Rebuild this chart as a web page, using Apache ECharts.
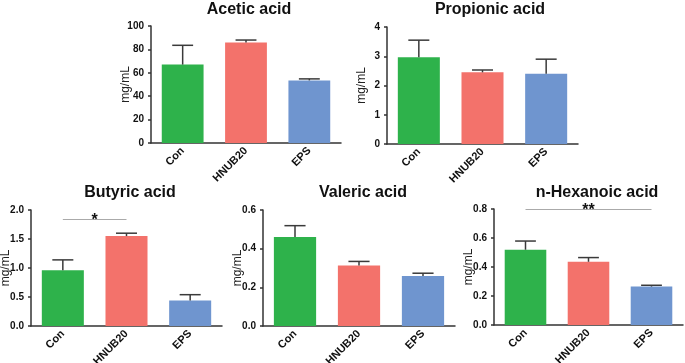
<!DOCTYPE html>
<html>
<head>
<meta charset="utf-8">
<title>Short-chain fatty acids</title>
<script src="https://cdn.jsdelivr.net/npm/echarts@6/dist/echarts.min.js"></script>
<style>
  html, body { margin: 0; padding: 0; background: #fff; }
  #chart { width: 685px; height: 363px; }
</style>
</head>
<body>
<div id="chart"></div>
<script>
// groups and values (mean and upper error bar)
var groups = ['Con', 'HNUB20', 'EPS'];

var aceticMean = [67, 86, 53.5];
var aceticSd = [16.5, 2, 1.3];

var propionicMean = [2.97, 2.45, 2.40];
var propionicSd = [0.58, 0.08, 0.50];

var butyricMean = [0.96, 1.55, 0.44];
var butyricSd = [0.18, 0.05, 0.10];

var valericMean = [0.46, 0.313, 0.259];
var valericSd = [0.059, 0.021, 0.014];

var hexanoicMean = [0.519, 0.436, 0.265];
var hexanoicSd = [0.06, 0.029, 0.009];

// significance brackets: [from group, to group, height, mark]
var butyricSig = [0, 1, 1.84, '*'];
var hexanoicSig = [0, 2, 0.795, '**'];

var panels = [
  { title: 'Acetic acid', mean: aceticMean, sd: aceticSd, max: 100, step: 20, digits: 0, sig: null },
  { title: 'Propionic acid', mean: propionicMean, sd: propionicSd, max: 4, step: 1, digits: 0, sig: null },
  { title: 'Butyric acid', mean: butyricMean, sd: butyricSd, max: 2, step: 0.5, digits: 1, sig: butyricSig },
  { title: 'Valeric acid', mean: valericMean, sd: valericSd, max: 0.6, step: 0.2, digits: 1, sig: null },
  { title: 'n-Hexanoic acid', mean: hexanoicMean, sd: hexanoicSd, max: 0.8, step: 0.2, digits: 1, sig: hexanoicSig }
];

// pixel layout of each panel
var layout = [
  { left: 151, top: 26, width: 190, height: 117, titleX: 249, titleY: 2 },
  { left: 387, top: 27, width: 191, height: 117, titleX: 490, titleY: 2 },
  { left: 31, top: 210, width: 191, height: 116, titleX: 130, titleY: 185 },
  { left: 263, top: 210, width: 192, height: 116, titleX: 363, titleY: 185 },
  { left: 494, top: 209, width: 189, height: 116, titleX: 597, titleY: 185 }
];

var colors = ['#2eb24b', '#f3726b', '#6f95cf'];
var axisColor = '#333';
var font = "'Liberation Sans', Arial, sans-serif";

function renderError(params, api) {
  var i = api.value(0);
  var base = api.coord([i, api.value(1)]);
  var top = api.coord([i, api.value(2)]);
  var half = api.size([1, 0])[0] * 0.165;
  var style = { stroke: '#3a3a3a', lineWidth: 1.5 };
  return {
    type: 'group',
    children: [
      { type: 'line', shape: { x1: top[0], y1: base[1], x2: top[0], y2: top[1] }, style: style },
      { type: 'line', shape: { x1: top[0] - half, y1: top[1], x2: top[0] + half, y2: top[1] }, style: style }
    ]
  };
}

var titles = [], grids = [], xAxes = [], yAxes = [], series = [];

panels.forEach(function (p, k) {
  var l = layout[k];
  titles.push({
    text: p.title,
    left: l.titleX,
    top: l.titleY,
    padding: 0,
    textAlign: 'center',
    textStyle: { fontFamily: font, fontSize: 16, fontWeight: 'bold', color: '#111' }
  });
  grids.push({
    left: l.left, top: l.top, width: l.width, height: l.height,
    outerBoundsMode: 'none'
  });
  xAxes.push({
    type: 'category',
    gridIndex: k,
    data: groups,
    axisLine: { lineStyle: { color: axisColor, width: 1.5 } },
    axisTick: { alignWithLabel: true, length: 3, lineStyle: { color: axisColor, width: 1.5 } },
    axisLabel: {
      interval: 0, rotate: 45, margin: 6,
      fontFamily: font, fontSize: 11, fontWeight: 'bold', color: '#111'
    }
  });
  yAxes.push({
    type: 'value',
    gridIndex: k,
    min: 0,
    max: p.max,
    interval: p.step,
    name: 'mg/mL',
    nameLocation: 'middle',
    nameGap: 19,
    nameMoveOverlap: false,
    nameTextStyle: { fontFamily: font, fontSize: 12, color: '#222' },
    splitLine: { show: false },
    axisLine: { show: true, lineStyle: { color: axisColor, width: 1.5 } },
    axisTick: { show: true, length: 3, lineStyle: { color: axisColor, width: 1.5 } },
    axisLabel: {
      margin: 7, fontFamily: font, fontSize: 10, fontWeight: 'bold', color: '#111',
      formatter: function (v) { return v.toFixed(p.digits); }
    }
  });

  var bar = {
    type: 'bar',
    xAxisIndex: k,
    yAxisIndex: k,
    barWidth: '66%',
    data: p.mean.map(function (v, i) {
      return { value: v, itemStyle: { color: colors[i] } };
    }),
    z: 2
  };
  if (p.sig) {
    bar.markLine = {
      silent: true,
      symbol: 'none',
      lineStyle: { color: '#aaa', width: 1, type: 'solid' },
      label: {
        show: true, position: 'middle', distance: -9,
        formatter: p.sig[3],
        fontFamily: font, fontSize: 16, fontWeight: 'bold', color: '#111'
      },
      data: [[{ coord: [p.sig[0], p.sig[2]] }, { coord: [p.sig[1], p.sig[2]] }]]
    };
  }
  series.push(bar);

  series.push({
    type: 'custom',
    xAxisIndex: k,
    yAxisIndex: k,
    renderItem: renderError,
    encode: { x: 0, y: [1, 2] },
    data: p.mean.map(function (v, i) { return [i, v, v + p.sd[i]]; }),
    z: 3
  });
});

var chart = echarts.init(document.getElementById('chart'));
chart.setOption({
  backgroundColor: '#fff',
  animation: false,
  title: titles,
  grid: grids,
  xAxis: xAxes,
  yAxis: yAxes,
  series: series
});
</script>
</body>
</html>
